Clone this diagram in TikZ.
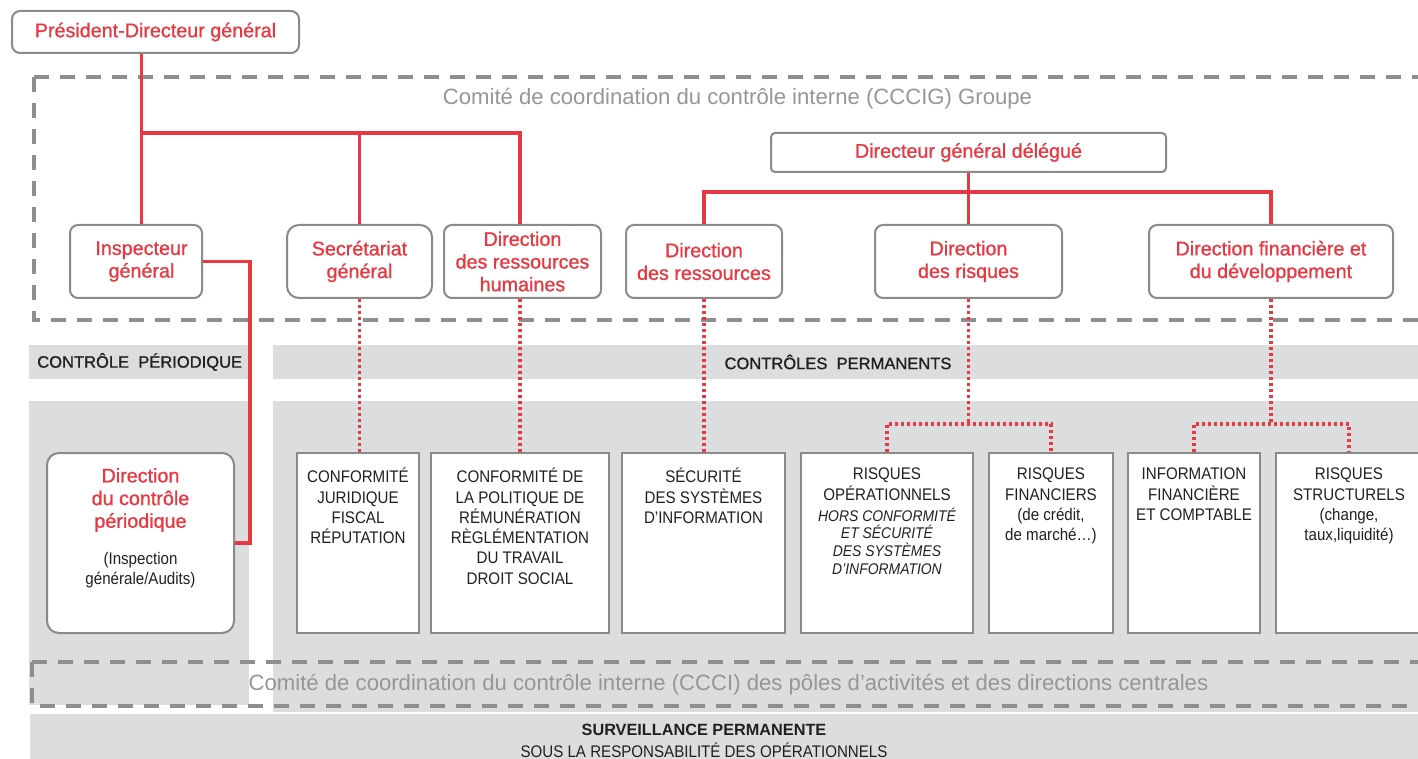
\documentclass[tikz,border=0pt]{standalone}
\usepackage{fontspec}
\setmainfont{Liberation Sans}
\newfontfamily\condfont[FakeStretch=0.9]{Liberation Sans}
\newfontfamily\medfont[FakeBold=1]{Liberation Sans}
\usetikzlibrary{fit}
\definecolor{cred}{HTML}{E83942}
\definecolor{cgrayline}{HTML}{8E8E8E}
\definecolor{cband}{HTML}{DCDDDF}
\definecolor{cboxline}{HTML}{8A8A8A}
\definecolor{ctitle}{HTML}{969696}
\definecolor{cink}{HTML}{231F20}
\begin{document}
\begin{tikzpicture}[x=0.75pt,y=-0.75pt,
  topbox/.style={draw=cboxline, fill=white, line width=1.5pt, rounded corners=6pt, inner sep=0pt},
  lowbox/.style={draw=cboxline, fill=white, line width=1.5pt, inner sep=0pt},
  redtxt/.style={text=cred, align=center, font=\medfont\fontsize{14.8}{17}\selectfont, inner sep=0pt},
  boxtxt/.style={text=cink, align=center, font=\condfont\fontsize{12.6}{15.2}\selectfont, inner sep=0pt, anchor=north, execute at begin node={\rule{0pt}{12pt}}},
  itxt/.style={text=cink, align=center, font=\condfont\itshape\fontsize{11.6}{13.3}\selectfont, inner sep=0pt, anchor=north, execute at begin node={\rule{0pt}{11pt}}},
  graytxt/.style={text=cink, align=center, font=\condfont\fontsize{12.6}{15}\selectfont, inner sep=0pt},
  comite/.style={text=ctitle, font=\fontsize{16.6}{19}\selectfont, inner sep=0pt},
  head/.style={text=cink, font=\medfont\fontsize{12.4}{15}\selectfont, inner sep=0pt},
  orgline/.style={draw=cred, line width=2.6pt},
  dotline/.style={draw=cred, line width=2.6pt, dash pattern=on 2.2pt off 2.3pt},
  cadre/.style={draw=cgrayline, line width=3pt, dash pattern=on 11.2pt off 8.3pt}
]
\useasboundingbox (0,0) rectangle (1418,759);
\clip (0,0) rectangle (1418,759);
\fill[white] (0,0) rectangle (1418,759);

% grey bands and areas
\fill[cband] (29,345) rectangle (249,379);
\fill[cband] (273,345) rectangle (1418,379);
\fill[cband] (29,401) rectangle (249,705);
\fill[cband] (273,401) rectangle (1420,712);
\fill[cband] (30,714) rectangle (1420,759);

% dashed committee frames
\draw[cadre] (34,77) -- (1440,77);
\draw[cadre] (34,77) -- (34,320) -- (1440,320);
\draw[cadre] (32,662) -- (1440,662);
\draw[cadre] (32,662) -- (32,706) -- (1440,706);

\node[comite] (t1) at (737.5,99) {Comité de coordination du contrôle interne (CCCIG) Groupe};
\node[comite] (t2) at (728.5,685) {Comité de coordination du contrôle interne (CCCI) des pôles d’activités et des directions centrales};

\node[head, anchor=west] (h1) at (37,362) {CONTRÔLE\ \ PÉRIODIQUE};
\node[head] (h2) at (838,362) {CONTRÔLES\ \ PERMANENTS};
\node[text=cink, font=\bfseries\fontsize{12.2}{14}\selectfont, inner sep=0pt] (s1) at (704,730) {SURVEILLANCE PERMANENTE};
\node[graytxt] (s2) at (704,750) {SOUS LA RESPONSABILITÉ DES OPÉRATIONNELS};

% top boxes
\node[topbox, fit={(12,11)(299,53)}] (pdg) {};
\node[redtxt] at (155.5,32) {Président-Directeur général};
\node[topbox, fit={(771,133)(1166,172)}, rounded corners=3pt] (dgd) {};
\node[redtxt] at (dgd.center) {Directeur général délégué};
\node[topbox, fit={(70,225)(202,298)}] (insp) {};
\node[redtxt] at (141.5,261.5) {Inspecteur\\général};
\node[topbox, rounded corners=9pt, fit={(287,225)(432,298)}] (sg) {};
\node[redtxt] at (sg.center) {Secrétariat\\général};
\node[topbox, fit={(444,225)(601,298)}] (drh) {};
\node[redtxt] at (drh.center) {Direction\\des ressources\\humaines};
\node[topbox, fit={(626,225)(782,298)}] (dres) {};
\node[redtxt] at (dres.center) {Direction\\des ressources};
\node[topbox, fit={(875,225)(1062,298)}] (drisk) {};
\node[redtxt] at (drisk.center) {Direction\\des risques};
\node[topbox, fit={(1149,225)(1393,298)}] (dfin) {};
\node[redtxt] at (dfin.center) {Direction financière et\\du développement};

% lower boxes
\node[topbox, rounded corners=9pt, fit={(47,453)(234,633)}] (dcp) {};
\node[redtxt] at (140.5,500) {Direction\\du contrôle\\périodique};
\node[graytxt] at (140.5,570) {(Inspection\\générale/Audits)};

\node[lowbox, fit={(297,453)(419,633)}] (conf) {};
\node[boxtxt] at ([yshift=-12pt]conf.north) {CONFORMITÉ\\JURIDIQUE\\FISCAL\\RÉPUTATION};
\node[lowbox, fit={(431,453)(609,633)}] (pol) {};
\node[boxtxt] at ([yshift=-12pt]pol.north) {CONFORMITÉ DE\\LA POLITIQUE DE\\RÉMUNÉRATION\\RÈGLÉMENTATION\\DU TRAVAIL\\DROIT SOCIAL};
\node[lowbox, fit={(622,453)(785,633)}] (ssi) {};
\node[boxtxt] at ([yshift=-12pt]ssi.north) {SÉCURITÉ\\DES SYSTÈMES\\D’INFORMATION};
\node[lowbox, fit={(801,453)(973,633)}] (rop) {};
\node[boxtxt] at ([yshift=-12pt]rop.north) {RISQUES\\OPÉRATIONNELS};
\node[itxt] at ([yshift=-41.6pt]rop.north) {HORS CONFORMITÉ\\ET SÉCURITÉ\\DES SYSTÈMES\\D’INFORMATION};
\node[lowbox, fit={(989,453)(1113,633)}] (rfin) {};
\node[boxtxt] at ([yshift=-12pt]rfin.north) {RISQUES\\FINANCIERS\\(de crédit,\\de marché…)};
\node[lowbox, fit={(1128,453)(1260,633)}] (ifin) {};
\node[boxtxt] at ([yshift=-12pt]ifin.north) {INFORMATION\\FINANCIÈRE\\ET COMPTABLE};
\node[lowbox, fit={(1276,453)(1422,633)}] (rstr) {};
\node[boxtxt] at ([yshift=-12pt]rstr.north) {RISQUES\\STRUCTURELS\\(change,\\taux,liquidité)};

% solid hierarchy lines
\coordinate (j1) at (141.5,133);
\coordinate (j2) at (968.5,192);
\coordinate (c1) at (250,300);
\draw[orgline] (pdg.south -| j1) -- (j1 |- insp.north);
\draw[orgline] (j1) -| (sg.north);
\draw[orgline] (j1) -| (pol.north |- drh.north);
\draw[orgline] (dgd.south) -- (drisk.north);
\draw[orgline] (dres.north) |- (j2) -| (dfin.north);
\draw[orgline] (insp.east) -| (c1) |- (dcp.east);

% dotted functional lines
\coordinate (k1) at (968.5,424);
\coordinate (k2) at (1271,424);
\draw[dotline] (sg.south) -- (sg.south |- conf.north);
\draw[dotline] (pol.north |- drh.south) -- (pol.north);
\draw[dotline] (dres.south) -- (dres.south |- ssi.north);
\draw[dotline] (drisk.south) -- (k1);
\draw[dotline] (rop.north) |- (k1) -| (rfin.north);
\draw[dotline] (dfin.south) -- (k2);
\draw[dotline] (ifin.north) |- (k2) -| (rstr.north);
\end{tikzpicture}
\end{document}
